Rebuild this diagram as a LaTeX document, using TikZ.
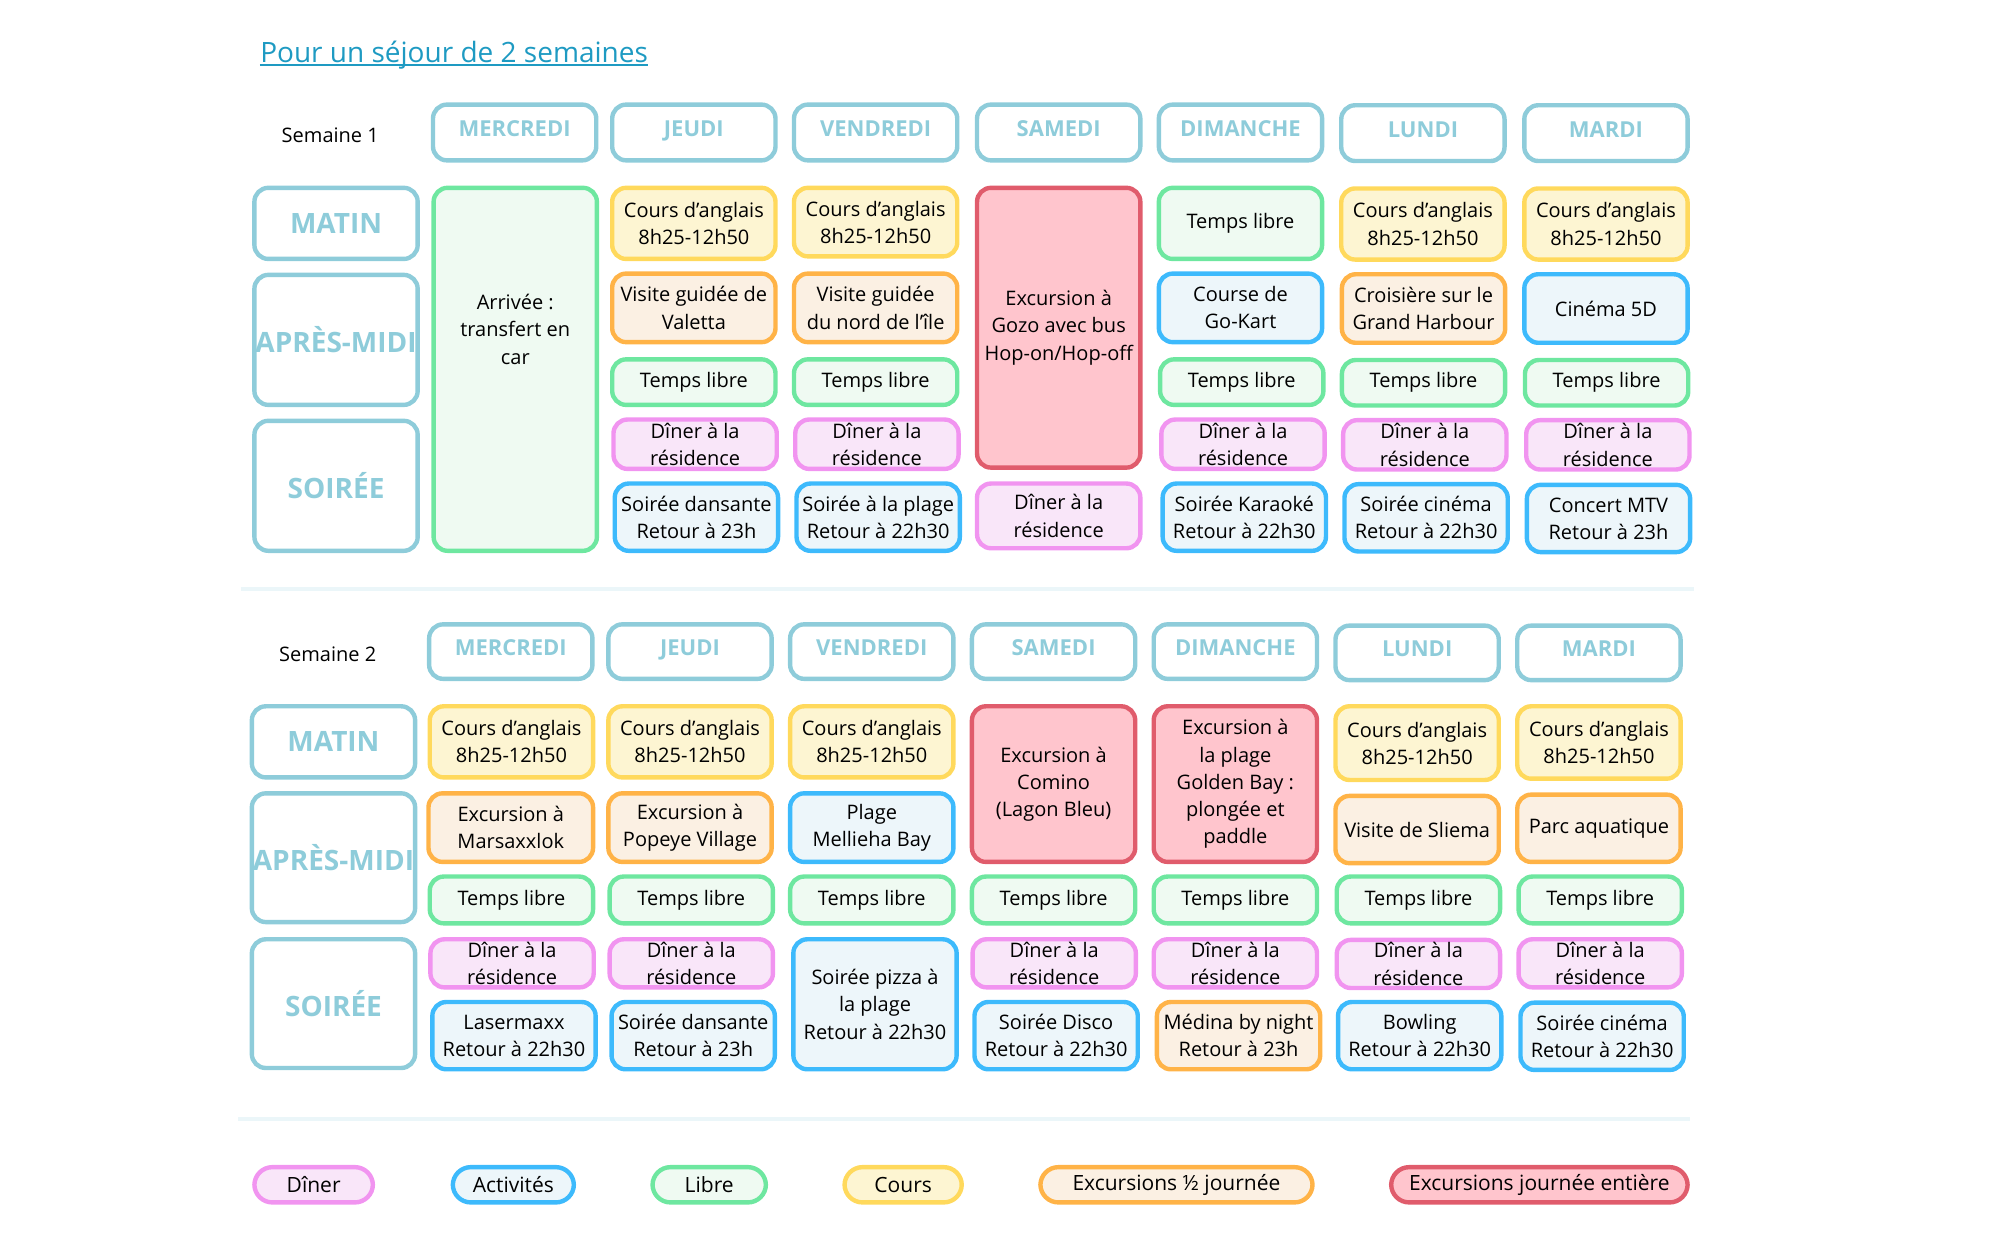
\documentclass[tikz,border=0pt]{standalone}
\usepackage{fontspec}
\setmainfont{Open Sans}
\usetikzlibrary{positioning}

\definecolor{headline}{HTML}{8ECCDA}
\definecolor{coursline}{HTML}{FFD95C}
\definecolor{coursfill}{HTML}{FDF5D2}
\definecolor{demiline}{HTML}{FFB347}
\definecolor{demifill}{HTML}{FBF0E3}
\definecolor{libreline}{HTML}{6EE7A0}
\definecolor{librefill}{HTML}{EFFAF2}
\definecolor{dinerline}{HTML}{F194F0}
\definecolor{dinerfill}{HTML}{F9E6F9}
\definecolor{activline}{HTML}{3DBAFC}
\definecolor{activfill}{HTML}{EDF6FA}
\definecolor{journeeline}{HTML}{E05C6C}
\definecolor{journeefill}{HTML}{FFC5CD}
\definecolor{sepline}{HTML}{EBF6F9}
\definecolor{titlecol}{HTML}{1E9AC2}

\newcommand\pxu{0.6401pt}
\newcommand\cellfont{\fontsize{10}{13.6}\selectfont}
\newcommand\legfont{\fontsize{10.5}{13}\selectfont}
\newcommand\headfont{\fontsize{11}{13}\selectfont\bfseries}
\newcommand\rowfont{\fontsize{14}{16}\selectfont\bfseries}
\newcommand\titlefont{\fontsize{14}{17}\selectfont}

\tikzset{
  cell/.style={draw, rounded corners=7pt, line width=2.2pt, inner sep=0pt,
    align=center, font=\cellfont},
  sz/.style 2 args={minimum width={#1*\pxu-2.2pt}, minimum height={#2*\pxu-2.2pt}},
  cours/.style={cell, draw=coursline, fill=coursfill},
  demi/.style={cell, draw=demiline, fill=demifill},
  libre/.style={cell, draw=libreline, fill=librefill},
  diner/.style={cell, draw=dinerline, fill=dinerfill},
  activ/.style={cell, draw=activline, fill=activfill},
  journee/.style={cell, draw=journeeline, fill=journeefill},
  dayhead/.style={cell, draw=headline, fill=white, text=headline, font=\headfont,
    text height=8pt, text depth=4pt},
  rowhead/.style={cell, draw=headline, fill=white, text=headline, font=\rowfont},
  pill/.style={rounded corners=9pt, font=\legfont},
  sep/.style={draw=sepline, line width=2pt},
}

\begin{document}
\begin{tikzpicture}[x=\pxu, y=-\pxu]
  \useasboundingbox (0,0) rectangle (1567,967.1);

  % titre
  \node[inner sep=0pt, anchor=base west, text=titlecol, font=\titlefont] (title) at (203,48.5) {Pour un séjour de 2 semaines};
  \draw[titlecol, line width=1pt] ([yshift=-1.5pt]title.base west) -- ([yshift=-1.5pt]title.base east);

  % semaine 1
  \node[font=\cellfont] (sem1) at (258,106) {Semaine 1};
  \node[dayhead, sz={131}{47}] (s1mer) at (402,103.5) {MERCREDI};
  \node[dayhead, sz={131}{47}] (s1jeu) at (542,103.5) {JEUDI};
  \node[dayhead, sz={131}{47}] (s1ven) at (684,103.5) {VENDREDI};
  \node[dayhead, sz={131}{47}] (s1sam) at (827,103.5) {SAMEDI};
  \node[dayhead, sz={131}{47}] (s1dim) at (969,103.5) {DIMANCHE};
  \node[dayhead, sz={131}{47}] (s1lun) at (1111.5,104) {LUNDI};
  \node[dayhead, sz={131}{47}] (s1mar) at (1254.5,104) {MARDI};

  \node[rowhead, sz={131}{59}] (s1matin) at (262.5,174.5) {MATIN};
  \node[rowhead, sz={131}{105}] (s1aprem) at (262.5,265.5) {APRÈS-MIDI};
  \node[rowhead, sz={131}{105}] (s1soir) at (262.5,379.5) {SOIRÉE};

  \node[libre, sz={131}{287}] (s1mer1) at (402.5,288.5) {};
  \node[align=center, font=\cellfont] (s1mertxt) at ([yshift=20pt]s1mer1.center) {Arrivée :\\transfert en\\car};

  \node[cours, sz={131}{59}] (s1jeu1) at (542,174.5) {Cours d’anglais\\8h25-12h50};
  \node[demi, sz={131}{57}] (s1jeu2) at (542,240.5) {Visite guidée de\\Valetta};
  \node[libre, sz={131}{39}] (s1jeu3) at (542,298.5) {Temps libre};
  \node[diner, sz={131}{42}] (s1jeu4) at (543,347) {Dîner à la\\résidence};
  \node[activ, sz={131}{56}] (s1jeu5) at (544,404) {Soirée dansante\\Retour à 23h};

  \node[cours, sz={131}{57}] (s1ven1) at (684,173.5) {Cours d’anglais\\8h25-12h50};
  \node[demi, sz={131}{57}] (s1ven2) at (684,240.5) {Visite guidée\\du nord de l’île};
  \node[libre, sz={131}{39}] (s1ven3) at (684,298.5) {Temps libre};
  \node[diner, sz={131}{42}] (s1ven4) at (685,347) {Dîner à la\\résidence};
  \node[activ, sz={131}{56}] (s1ven5) at (686,404) {Soirée à la plage\\Retour à 22h30};

  \node[journee, sz={131}{222}] (s1sam1) at (827,256) {Excursion à\\Gozo avec bus\\Hop-on/Hop-off};
  \node[diner, sz={131}{54}] (s1sam5) at (827,403) {Dîner à la\\résidence};

  \node[libre, sz={131}{59}] (s1dim1) at (969,174.5) {Temps libre};
  \node[activ, sz={131}{57}] (s1dim2) at (969,240.5) {Course de\\Go-Kart};
  \node[libre, sz={131}{39}] (s1dim3) at (970,298.5) {Temps libre};
  \node[diner, sz={131}{42}] (s1dim4) at (971,347) {Dîner à la\\résidence};
  \node[activ, sz={131}{56}] (s1dim5) at (972,404) {Soirée Karaoké\\Retour à 22h30};

  \node[cours, sz={131}{59}] (s1lun1) at (1111.5,175) {Cours d’anglais\\8h25-12h50};
  \node[demi, sz={131}{57}] (s1lun2) at (1112,241) {Croisière sur le\\Grand Harbour};
  \node[libre, sz={131}{39}] (s1lun3) at (1112,299) {Temps libre};
  \node[diner, sz={131}{42}] (s1lun4) at (1113,347.5) {Dîner à la\\résidence};
  \node[activ, sz={131}{56}] (s1lun5) at (1114,404.5) {Soirée cinéma\\Retour à 22h30};

  \node[cours, sz={131}{59}] (s1mar1) at (1254.5,175) {Cours d’anglais\\8h25-12h50};
  \node[activ, sz={131}{57}] (s1mar2) at (1254.5,241) {Cinéma 5D};
  \node[libre, sz={131}{39}] (s1mar3) at (1255,299) {Temps libre};
  \node[diner, sz={131}{42}] (s1mar4) at (1256,347.5) {Dîner à la\\résidence};
  \node[activ, sz={131}{56}] (s1mar5) at (1256.5,405) {Concert MTV\\Retour à 23h};

  \draw[sep] (188,460) -- (1323,460);

  % semaine 2
  \node[font=\cellfont] (sem2) at (256,511) {Semaine 2};
  \node[dayhead, sz={131}{46}] (s2mer) at (399,509) {MERCREDI};
  \node[dayhead, sz={131}{46}] (s2jeu) at (539,509) {JEUDI};
  \node[dayhead, sz={131}{46}] (s2ven) at (681,509) {VENDREDI};
  \node[dayhead, sz={131}{46}] (s2sam) at (823,509) {SAMEDI};
  \node[dayhead, sz={131}{46}] (s2dim) at (965,509) {DIMANCHE};
  \node[dayhead, sz={131}{46}] (s2lun) at (1107,510) {LUNDI};
  \node[dayhead, sz={131}{46}] (s2mar) at (1249,510) {MARDI};

  \node[rowhead, sz={131}{59}] (s2matin) at (260.5,579.5) {MATIN};
  \node[rowhead, sz={131}{104}] (s2aprem) at (260.5,670) {APRÈS-MIDI};
  \node[rowhead, sz={131}{104}] (s2soir) at (260.5,784) {SOIRÉE};

  \node[cours, sz={131}{59}] (s2mer1) at (399.5,579.5) {Cours d’anglais\\8h25-12h50};
  \node[demi, sz={132}{57}] (s2mer2) at (399,646.5) {Excursion à\\Marsaxxlok};
  \node[libre, sz={131}{40}] (s2mer3) at (399.5,703) {Temps libre};
  \node[diner, sz={131}{41}] (s2mer4) at (400,752.5) {Dîner à la\\résidence};
  \node[activ, sz={131}{56}] (s2mer5) at (401.5,809) {Lasermaxx\\Retour à 22h30};

  \node[cours, sz={131}{59}] (s2jeu1) at (539,579.5) {Cours d’anglais\\8h25-12h50};
  \node[demi, sz={131}{57}] (s2jeu2) at (539,646.5) {Excursion à\\Popeye Village};
  \node[libre, sz={131}{40}] (s2jeu3) at (540,703) {Temps libre};
  \node[diner, sz={131}{41}] (s2jeu4) at (540,752.5) {Dîner à la\\résidence};
  \node[activ, sz={131}{56}] (s2jeu5) at (541.5,809) {Soirée dansante\\Retour à 23h};

  \node[cours, sz={131}{59}] (s2ven1) at (681,579.5) {Cours d’anglais\\8h25-12h50};
  \node[activ, sz={131}{57}] (s2ven2) at (681,646.5) {Plage\\Mellieha Bay};
  \node[libre, sz={131}{40}] (s2ven3) at (681,703) {Temps libre};
  \node[activ, sz={131}{105}] (s2ven5) at (683.5,784.5) {Soirée pizza à\\la plage\\Retour à 22h30};

  \node[journee, sz={131}{125}] (s2sam1) at (823,612.5) {Excursion à\\Comino\\(Lagon Bleu)};
  \node[libre, sz={131}{40}] (s2sam3) at (823,703) {Temps libre};
  \node[diner, sz={131}{41}] (s2sam4) at (823.5,752.5) {Dîner à la\\résidence};
  \node[activ, sz={131}{56}] (s2sam5) at (825,809) {Soirée Disco\\Retour à 22h30};

  \node[journee, sz={131}{125}] (s2dim1) at (965,612.5) {Excursion à\\la plage\\Golden Bay :\\plongée et\\paddle};
  \node[libre, sz={131}{40}] (s2dim3) at (965,703) {Temps libre};
  \node[diner, sz={131}{41}] (s2dim4) at (965,752.5) {Dîner à la\\résidence};
  \node[demi, sz={131}{56}] (s2dim5) at (967.5,809) {Médina by night\\Retour à 23h};

  \node[cours, sz={131}{61}] (s2lun1) at (1107,580.5) {Cours d’anglais\\8h25-12h50};
  \node[demi, sz={131}{56}] (s2lun2) at (1107,648) {Visite de Sliema};
  \node[libre, sz={131}{40}] (s2lun3) at (1108,703) {Temps libre};
  \node[diner, sz={131}{41}] (s2lun4) at (1108,753) {Dîner à la\\résidence};
  \node[activ, sz={131}{56}] (s2lun5) at (1109,809) {Bowling\\Retour à 22h30};

  \node[cours, sz={131}{60}] (s2mar1) at (1249,580) {Cours d’anglais\\8h25-12h50};
  \node[demi, sz={131}{56}] (s2mar2) at (1249,647) {Parc aquatique};
  \node[libre, sz={131}{40}] (s2mar3) at (1250,703) {Temps libre};
  \node[diner, sz={131}{41}] (s2mar4) at (1250,752.5) {Dîner à la\\résidence};
  \node[activ, sz={131}{56}] (s2mar5) at (1251.5,809.5) {Soirée cinéma\\Retour à 22h30};

  \draw[sep] (186,874) -- (1320,874);

  % legende
  \node[diner, pill, sz={96}{31}] (legdiner) at (245,925.5) {Dîner};
  \node[activ, pill, sz={98}{31}] (legactiv) at (401,925.5) {Activités};
  \node[libre, pill, sz={92}{31}] (leglibre) at (554,925.5) {Libre};
  \node[cours, pill, sz={95}{31}] (legcours) at (705.5,925.5) {Cours};
  \node[demi, pill, sz={216}{31}] (legdemi) at (919,925.5) {Excursions ½ journée};
  \node[journee, pill, sz={235}{31}] (legjournee) at (1202.5,925.5) {Excursions journée entière};
\end{tikzpicture}
\end{document}
